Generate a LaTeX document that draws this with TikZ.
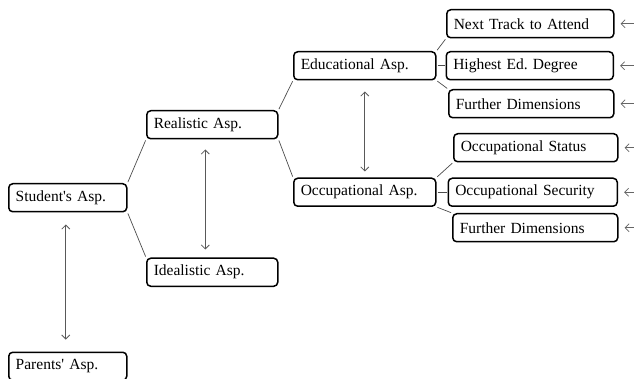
\documentclass[tikz,border=0pt]{standalone}
\usepackage{fontspec}
\setmainfont{Liberation Serif}
\usetikzlibrary{positioning, arrows.meta}

\begin{document}
\begin{tikzpicture}[x=1pt, y=-1pt, node distance=10pt,
    >={Straight Barb[length=4pt, width=8pt, line width=0.8pt]},
    asp/.style={draw, rounded corners=4pt, line width=1.5pt, anchor=north west,
      inner xsep=7pt, minimum height=28pt, align=left,
      font=\fontsize{15.5}{18}\selectfont},
    link/.style={draw=black!70, line width=0.7pt, shorten <=1pt, shorten >=1pt},
    twoway/.style={<->, draw=black!65, line width=0.8pt},
    feed/.style={<-, draw=black!60, line width=0.8pt}]
        \useasboundingbox (0,0) rectangle (634,379);

        \node[asp, text width=104pt]                      (St)  at (8,183)   {Student\textquotesingle s Asp.};
        \node[asp, text width=104pt, below=139pt of St]   (Pa)               {Parents\textquotesingle\ Asp.};
        \node[asp, text width=117pt]                      (Re)  at (146,110) {Realistic Asp.};
        \node[asp, text width=117pt, below=118pt of Re]   (Id)               {Idealistic Asp.};
        \node[asp, text width=128pt]                      (Ed)  at (293,51)  {Educational Asp.};
        \node[asp, text width=128pt, below=97pt of Ed]    (Oc)               {Occupational Asp.};

        \node[asp, text width=153pt, right=9pt of Ed]     (E2)               {Highest Ed.\ Degree};
        \node[asp, text width=153pt]                      (E1)  at (446,9)   {Next Track to Attend};
        \node[asp, text width=151pt]                      (E3)  at (448,89)  {Further Dimensions};
        \node[asp, text width=155pt, right=11pt of Oc]    (O2)               {Occupational Security};
        \node[asp, text width=150pt]                      (O1)  at (453,133) {Occupational Status};
        \node[asp, text width=151pt]                      (O3)  at (452,213) {Further Dimensions};

        % tree
        \draw[link] (St.north east) -- (Re.south west);
        \draw[link] (St.south east) -- (Id.north west);
        \draw[link] (Re.north east) -- (Ed.south west);
        \draw[link] (Re.south east) -- (Oc.north west);
        \draw[link] (Ed.north east) -- (E1.south west);
        \draw[link] (Ed) -- (E2);
        \draw[link] (Ed.south east) -- (E3.north west);
        \draw[link] (Oc.north east) -- (O1.south west);
        \draw[link] (Oc) -- (O2);
        \draw[link] (Oc.south east) -- (O3.north west);

        % relations
        \draw[twoway, shorten <=12pt, shorten >=12pt] ([xshift=-2pt]St.south) -- ([xshift=-2pt]Pa.north);
        \draw[twoway, shorten <=10pt, shorten >=8pt] ([xshift=-7pt]Re.south) -- ([xshift=-7pt]Id.north);
        \draw[twoway, shorten <=11pt, shorten >=6pt] (Ed.south) -- (Oc.north);

        \foreach \n in {E1,E2,E3,O1,O2,O3}
            \draw[feed] ([xshift=6pt]\n.east) -- ++(16pt,0);
\end{tikzpicture}
\end{document}
